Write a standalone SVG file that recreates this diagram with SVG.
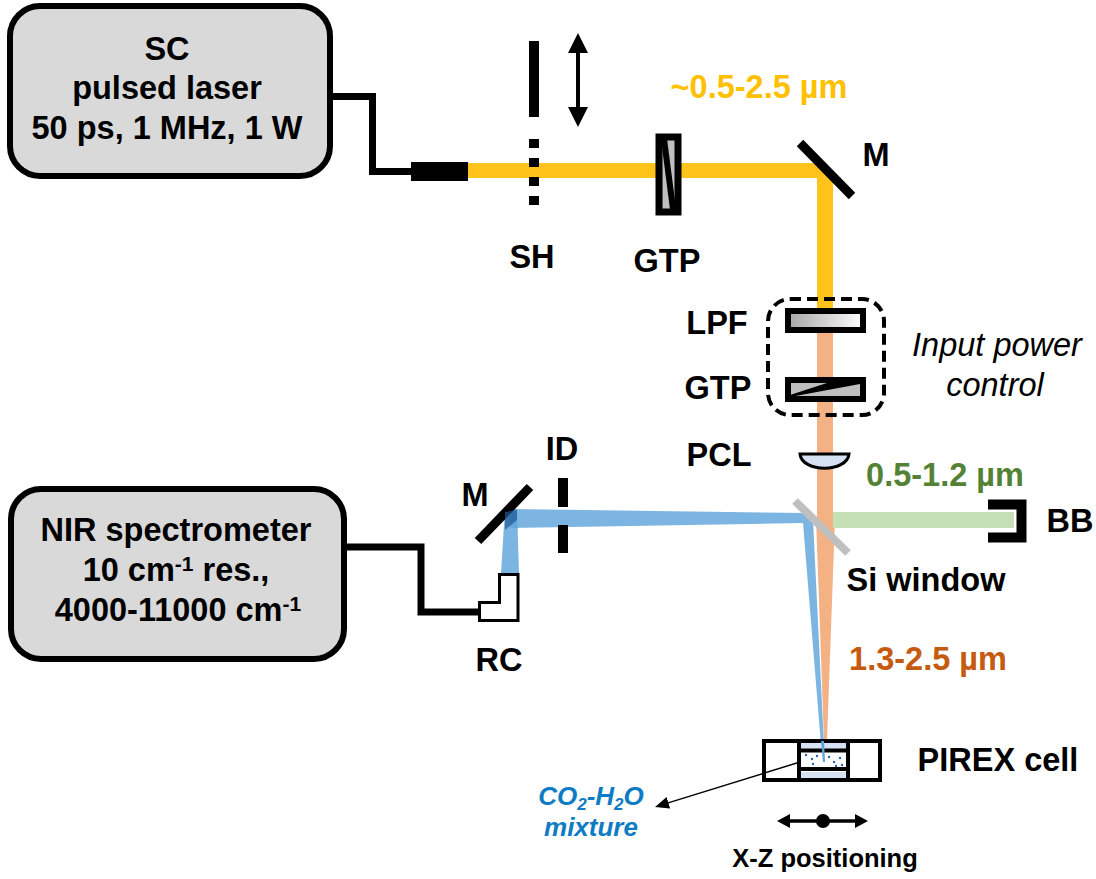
<svg xmlns="http://www.w3.org/2000/svg" width="1096" height="879" viewBox="0 0 1096 879">
<defs>
<linearGradient id="lpf" x1="0" x2="1" y1="0" y2="0"><stop offset="0" stop-color="#a6a6a6"/><stop offset="1" stop-color="#ffffff"/></linearGradient>
<marker id="big" markerUnits="userSpaceOnUse" markerWidth="20" markerHeight="20" refX="2" refY="10" orient="auto-start-reverse"><path d="M0,0L20,10L0,20z" fill="#000"/></marker>
<marker id="mid" markerUnits="userSpaceOnUse" markerWidth="13" markerHeight="14" refX="2" refY="7" orient="auto-start-reverse"><path d="M0,0L13,7L0,14z" fill="#000"/></marker>
<marker id="small" markerUnits="userSpaceOnUse" markerWidth="14" markerHeight="12" refX="2" refY="6" orient="auto"><path d="M0,0L14,6L0,12z" fill="#000"/></marker>
</defs>
<style>
text{font-family:"Liberation Sans",Arial,sans-serif;font-weight:700;font-size:32.5px;fill:#000;text-anchor:middle}
.box{fill:#d9d9d9;stroke:#000;stroke-width:6}
.wire{fill:none;stroke:#000;stroke-width:7}
.k{fill:#000}
.it{font-weight:400;font-style:italic}
.blue{font-size:26px;font-style:italic;fill:#0e7cc4}
</style>
<rect width="1096" height="879" fill="#fff"/>
<g id="beams">
<rect x="467" y="163" width="358" height="15" fill="#ffc31c"/>
<rect x="817" y="170" width="16" height="138" fill="#ffc31c"/>
<path d="M817,308H833V518H835L827,740H824L816,518H817z" fill="#f4b183"/>
<rect x="833" y="512" width="181" height="16" fill="#c5e0b4"/>
<path d="M510,509L806,513L813,520L824,745H821L803,523L510,528z" fill="#5ba3d9" fill-opacity=".8"/>
<path d="M505,509H517L519,573H501z" fill="#5ba3d9" fill-opacity=".8"/>
</g>
<g id="sc-laser">
<rect class="box" x="10" y="6" width="320" height="170" rx="30"/>
<text x="167" y="60">SC</text><text x="167" y="99">pulsed laser</text><text x="167" y="139">50 ps, 1 MHz, 1 W</text>
</g>
<g id="nir-spectrometer">
<rect class="box" x="11" y="489" width="333" height="170" rx="30"/>
<text x="176" y="541">NIR spectrometer</text><text x="176" y="581">10 cm<tspan font-size="21" dy="-10">-1</tspan><tspan dy="10"> res.,</tspan></text><text x="178" y="621">4000-11000 cm<tspan font-size="21" dy="-10">-1</tspan></text>
</g>
<g id="fiber-tip"><rect x="411" y="162" width="57" height="19" class="k"/></g>
<g id="shutter">
<rect x="529" y="41" width="10" height="76" class="k"/>
<rect x="529" y="139" width="10" height="9" class="k"/><rect x="529" y="158" width="10" height="9" class="k"/><rect x="529" y="177" width="10" height="9" class="k"/><rect x="529" y="196" width="10" height="9" class="k"/>
<text x="532" y="268">SH</text>
</g>
<g id="gtp1">
<rect x="659" y="137" width="19" height="75" fill="#bfbfbf" stroke="#000" stroke-width="7"/>
<path d="M664,139L673,209" stroke="#000" stroke-width="6"/>
<text x="667" y="272">GTP</text>
</g>
<g id="mirror1">
<path d="M800,143L852,196" stroke="#000" stroke-width="9"/>
<text x="876" y="166">M</text>
</g>
<text x="759" y="98" style="fill:#ffc000" id="label-sc">~0.5-2.5 µm</text>
<g id="input-power-control">
<rect x="768" y="299" width="116" height="116" rx="22" fill="none" stroke="#000" stroke-width="4" stroke-dasharray="11 6"/>
<rect x="788" y="311" width="75" height="19" fill="url(#lpf)" stroke="#000" stroke-width="6"/>
<rect x="788" y="380" width="75" height="19" fill="#bfbfbf" stroke="#000" stroke-width="6"/>
<path d="M790,397L860,384V381L830,382L790,395z" class="k"/>
<text x="717" y="334">LPF</text><text x="718" y="399">GTP</text>
<text x="997" y="356" class="it">Input power</text><text x="995" y="396" class="it">control</text>
</g>
<g id="pcl">
<path d="M800,454H849C847,473 802,473 800,454z" fill="#d6e2f3" stroke="#000" stroke-width="3"/>
<text x="719" y="466">PCL</text>
</g>
<g id="si-window">
<path d="M795,501L848,553" stroke="#bfbfbf" stroke-width="8"/>
<text x="926" y="591">Si window</text>
</g>
<text x="945" y="486" style="fill:#548235">0.5-1.2 µm</text>
<text x="928" y="670" style="fill:#c55a11">1.3-2.5 µm</text>
<g id="beam-block">
<path d="M988,504.5H1021.5V537.5H988" fill="none" stroke="#000" stroke-width="10"/>
<text x="1070" y="532">BB</text>
</g>
<g id="iris">
<rect x="558" y="478" width="10" height="29" class="k"/><rect x="558" y="525" width="10" height="28" class="k"/>
<text x="562" y="460">ID</text>
</g>
<g id="mirror2">
<path d="M478,541L530,487" stroke="#000" stroke-width="9"/>
<path d="M505,512L517,510V520L505,530z" fill="#1f5a96" fill-opacity=".7"/>
<text x="475" y="506">M</text>
</g>
<g id="rc">
<path d="M499.5,574.5H518V620.5H479.5V602.5H499.5z" fill="#fff" stroke="#000" stroke-width="3"/>
<text x="499" y="671">RC</text>
</g>
<g id="pirex-cell">
<rect x="764" y="741" width="116" height="39" fill="none" stroke="#000" stroke-width="4"/>
<rect x="801" y="743" width="45" height="6" fill="#d6e2f3"/>
<rect x="800" y="772" width="47" height="6" fill="#d6e2f3"/>
<rect x="801" y="751" width="45" height="17" fill="#fff"/>
<path d="M799,741V780M848,741V780M799,750.5H848M799,769H848" stroke="#000" stroke-width="4" fill="none"/>
<path d="M821,741H824L825,762H823z" fill="#5ba3d9"/>
<g fill="#2f5fb3"><circle cx="806" cy="755" r="1.2"/><circle cx="812" cy="759" r="1.2"/><circle cx="817" cy="756" r="1.2"/><circle cx="829" cy="757" r="1.2"/><circle cx="834" cy="762" r="1.2"/><circle cx="840" cy="758" r="1.2"/><circle cx="813" cy="764" r="1.2"/><circle cx="836" cy="766" r="1.2"/><circle cx="842" cy="765" r="1.2"/></g>
<text x="998" y="771">PIREX cell</text>
</g>
<g id="xz"><text x="825" y="867" style="font-size:25.5px">X-Z positioning</text></g>
<g id="co2-label">
<text x="591" y="805" class="blue">CO<tspan font-size="17" dy="5">2</tspan><tspan dy="-5">-H</tspan><tspan font-size="17" dy="5">2</tspan><tspan dy="-5">O</tspan></text>
<text x="591" y="836" class="blue">mixture</text>
</g>
<g id="connectors">
<path class="wire" d="M330,96.5H372.5V171.5H412"/>
<path class="wire" d="M345,547H421V612H480"/>
<path d="M578,51V109" stroke="#000" stroke-width="4" marker-start="url(#big)" marker-end="url(#big)" fill="none"/>
<path d="M800,762L666.5,803.4" stroke="#000" stroke-width="1.5" marker-end="url(#small)" fill="none"/>
<path d="M788,821H857" stroke="#000" stroke-width="3.5" marker-start="url(#mid)" marker-end="url(#mid)" fill="none"/>
<circle cx="823" cy="821" r="7" class="k"/>
</g>
</svg>
